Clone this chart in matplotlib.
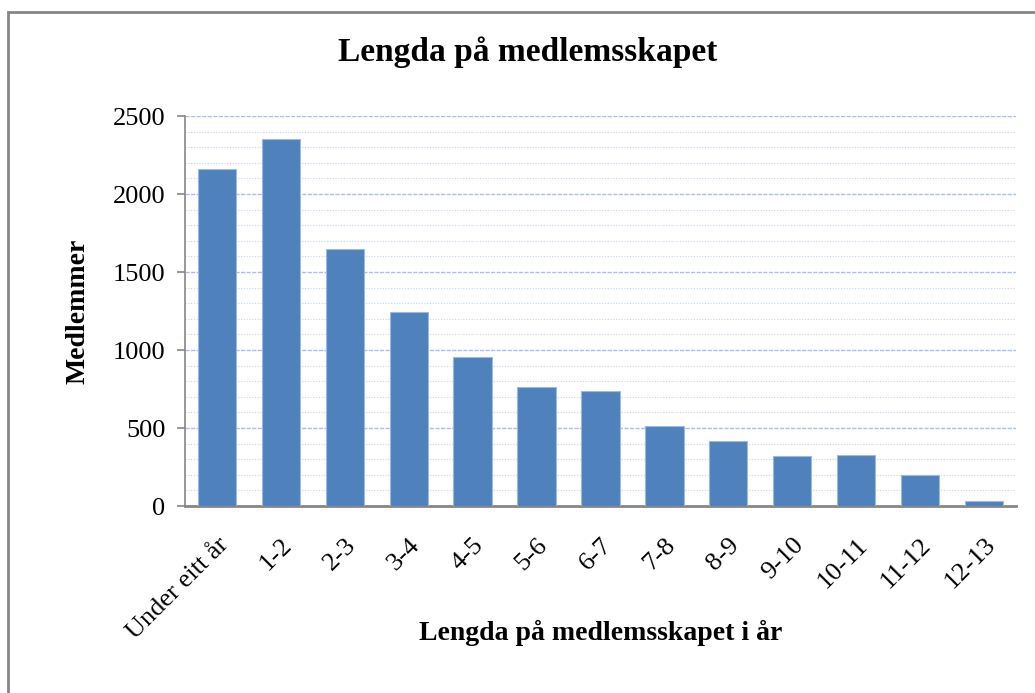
import numpy as np
import matplotlib.pyplot as plt
from matplotlib.patches import Rectangle
from matplotlib.ticker import MultipleLocator

categories = ['Under eitt år', '1-2', '2-3', '3-4', '4-5', '5-6', '6-7',
              '7-8', '8-9', '9-10', '10-11', '11-12', '12-13']
members = [2160, 2355, 1645, 1245, 955, 760, 735, 510, 420, 320, 325, 200, 35]

plt.rcParams['font.family'] = ['Liberation Serif', 'DejaVu Serif']

fig = plt.figure(figsize=(10.35, 6.93), dpi=100)
ax = fig.add_axes([0.1787, 0.2698, 0.8029, 0.5628])

x = np.arange(len(categories))
ax.bar(x, members, width=0.6, color='#4F81BD', edgecolor='#9DB9DF', linewidth=0.8, zorder=3)

ax.set_xlim(-0.5, len(categories) - 0.5)
ax.set_ylim(0, 2500)
ax.yaxis.set_major_locator(MultipleLocator(500))
ax.yaxis.set_minor_locator(MultipleLocator(100))

# gridlines: major dashed, minor dotted, pale blue
ax.grid(which='major', axis='y', color='#A9C1E3', linestyle=(0, (3, 1)), linewidth=1.0, zorder=0)
ax.grid(which='minor', axis='y', color='#C5D6EE', linestyle=(0, (1, 1.5)), linewidth=0.8, zorder=0)

for s in ['top', 'right']:
    ax.spines[s].set_visible(False)
ax.spines['left'].set_color('#868686')
ax.spines['left'].set_linewidth(1.2)
ax.spines['bottom'].set_color('#868686')
ax.spines['bottom'].set_linewidth(2.0)

ax.tick_params(axis='y', which='major', length=6, width=1.2, color='#868686',
               labelsize=19, pad=8)
ax.tick_params(axis='y', which='minor', length=0)
ax.tick_params(axis='x', length=0, labelsize=19, pad=20)
ax.set_xticks(x)
ax.set_xticklabels(categories, rotation=45, ha='right', rotation_mode='anchor')

ax.set_ylabel('Medlemmer', fontsize=20, fontweight='bold', va='center')
ax.yaxis.set_label_coords(-0.129, 0.5)
ax.set_xlabel('Lengda på medlemsskapet i år', fontsize=20, fontweight='bold', va='center')
ax.xaxis.set_label_coords(0.5, -0.326)

fig.text(0.51, 0.925, 'Lengda på medlemsskapet', ha='center', va='center',
         fontsize=24, fontweight='bold')

# chart area border
frame = Rectangle((8 / 1035, -0.05), 1.2, 1 - 12 / 693 + 0.05, transform=fig.transFigure,
                  fill=False, edgecolor='#868686', linewidth=2.0, clip_on=False)
fig.patches.append(frame)

fig.savefig('out.png', dpi=100)
